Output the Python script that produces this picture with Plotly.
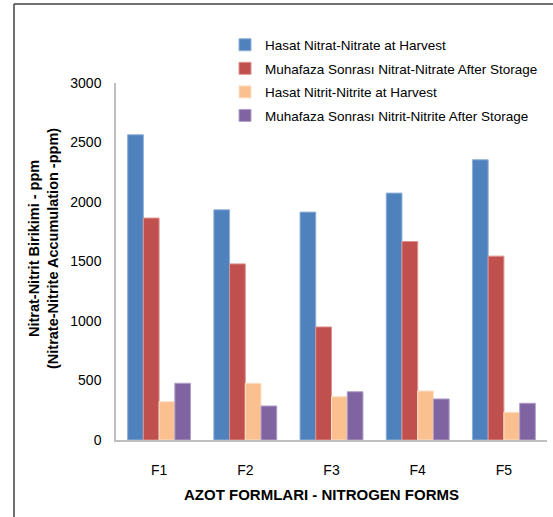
import plotly.graph_objects as go

categories = ["F1", "F2", "F3", "F4", "F5"]
series_names = [
    "Hasat Nitrat-Nitrate at Harvest",
    "Muhafaza Sonrası Nitrat-Nitrate After Storage",
    "Hasat Nitrit-Nitrite at Harvest",
    "Muhafaza Sonrası Nitrit-Nitrite After Storage",
]
nitrate_harvest = [2565, 1934, 1915, 2075, 2355]
nitrate_storage = [1865, 1480, 950, 1668, 1545]
nitrite_harvest = [322, 477, 364, 412, 233]
nitrite_storage = [477, 286, 406, 345, 309]
colors = ["#4F81BD", "#C0504D", "#FAC090", "#8064A2"]
edge_colors = ["#8fb0d8", "#dd9290", "#fde0c8", "#b3a2c9"]
y_ticks = [0, 500, 1000, 1500, 2000, 2500, 3000]

W, H = 553, 517
L, R, T, B = 116, 6, 83, 77
pw = W - L - R
ph = H - T - B

def px_x(x):
    return (x - L) / pw

def px_y(y):
    return (H - B - y) / ph

FONT = "Liberation Sans, Arial, sans-serif"

fig = go.Figure()
for i, (name, vals) in enumerate(zip(series_names, [nitrate_harvest, nitrate_storage, nitrite_harvest, nitrite_storage])):
    fig.add_trace(go.Bar(
        x=categories, y=vals, name=name, legendgroup="g%d" % i,
        marker=dict(color=colors[i], line=dict(color=edge_colors[i], width=1)),
    ))

fig.update_layout(
    width=W, height=H,
    margin=dict(l=L, r=R, t=T, b=B, pad=0),
    paper_bgcolor="white", plot_bgcolor="white",
    barmode="group", bargap=0.27, bargroupgap=0,
    font=dict(family=FONT, size=13, color="#000000"),
    showlegend=True,
    legend=dict(
        x=px_x(225), y=px_y(29.5), xanchor="left", yanchor="top",
        bgcolor="rgba(0,0,0,0)", tracegroupgap=3,
        font=dict(family=FONT, size=13.5, color="#000000"),
        itemwidth=30,
    ),
    xaxis=dict(
        showline=True, linecolor="#BFBFBF", linewidth=1.5,
        showgrid=False, ticks="", ticklabelstandoff=16,
        tickfont=dict(family=FONT, size=14),
    ),
    yaxis=dict(
        range=[0, 3000], tickvals=y_ticks,
        showline=True, linecolor="#BFBFBF", linewidth=1.5,
        showgrid=False, ticks="", ticklabelstandoff=10, zeroline=False,
        tickfont=dict(family=FONT, size=14),
    ),
    annotations=[
        dict(text="<b>AZOT FORMLARI - NITROGEN FORMS</b>", xref="paper", yref="paper",
             x=px_x(321), y=px_y(495), xanchor="center", yanchor="middle", showarrow=False,
             font=dict(family=FONT, size=15, color="#000000")),
        dict(text="<b>Nitrat-Nitrit Birikimi - ppm<br>(Nitrate-Nitrite Accumulation -ppm)</b>",
             xref="paper", yref="paper", x=px_x(43), y=px_y(249), xanchor="center", yanchor="middle",
             showarrow=False, textangle=-90,
             font=dict(family=FONT, size=14.5, color="#000000")),
    ],
    shapes=[
        dict(type="line", xref="paper", yref="paper", x0=px_x(14), x1=px_x(14), y0=px_y(4), y1=px_y(520),
             line=dict(color="#404040", width=1.5)),
        dict(type="line", xref="paper", yref="paper", x0=px_x(14), x1=px_x(556), y0=px_y(4), y1=px_y(4),
             line=dict(color="#404040", width=1.5)),
    ],
)

fig.write_html("out.html", config={"displayModeBar": False},
               post_script="document.body.style.margin='0';")
